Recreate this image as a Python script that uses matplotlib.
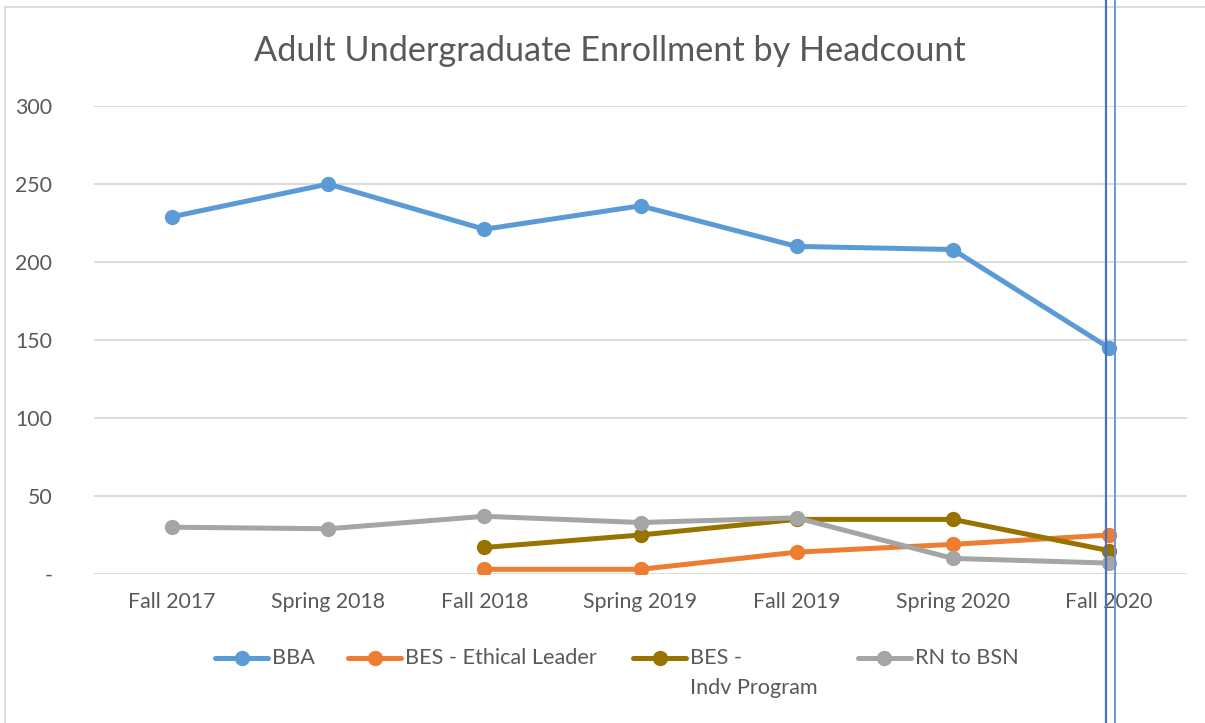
import matplotlib
matplotlib.use("Agg")
import matplotlib.pyplot as plt
from matplotlib.lines import Line2D
from matplotlib.patches import Rectangle
import numpy as np

# Data
terms = ["Fall 2017", "Spring 2018", "Fall 2018", "Spring 2019",
         "Fall 2019", "Spring 2020", "Fall 2020"]
bba = [229, 250, 221, 236, 210, 208, 145]
bes_ethical = [np.nan, np.nan, 3, 3, 14, 19, 25]
bes_indv = [np.nan, np.nan, 17, 25, 35, 35, 15]
rn_bsn = [30, 29, 37, 33, 36, 10, 7]
yticks = [0, 50, 100, 150, 200, 250, 300]
ytick_labels = ["-", "50", "100", "150", "200", "250", "300"]

series = [
    ("BBA", bba, "#5B9BD5"),
    ("BES - Ethical Leader", bes_ethical, "#ED7D31"),
    ("BES -\nIndv Program", bes_indv, "#997300"),
    ("RN to BSN", rn_bsn, "#A5A5A5"),
]

plt.rcParams['font.family'] = ['Lato', 'DejaVu Sans']
text_color = "#595959"

fig = plt.figure(figsize=(12.05, 7.23), dpi=100)
ax = fig.add_axes([94 / 1205, 1 - 574 / 723, (1187 - 94) / 1205, (574 - 106) / 723])

x = np.arange(len(terms))
for name, vals, col in series:
    ax.plot(x, vals, color=col, linewidth=3.6, marker="o", markersize=10,
            solid_capstyle="round", zorder=3)

ax.set_xlim(-0.5, len(terms) - 0.5)
ax.set_ylim(0, 300)
ax.set_yticks(yticks)
ax.set_yticklabels(ytick_labels)
ax.set_xticks(x)
ax.set_xticklabels(terms)
ax.tick_params(axis="both", length=0, labelsize=15.3, colors=text_color)
ax.tick_params(axis="y", pad=30)
ax.tick_params(axis="x", pad=13)
for lbl in ax.get_yticklabels():
    lbl.set_horizontalalignment("right")
ax.grid(axis="y", color="#D9D9D9", linewidth=1.3)
ax.set_axisbelow(True)
for s in ax.spines.values():
    s.set_visible(False)

fig.text(610 / 1205, 1 - 51 / 723, "Adult Undergraduate Enrollment by Headcount",
         ha="center", va="center", fontsize=24.7, color=text_color)

# legend drawn by hand to match the wrapped label
leg_y = 1 - 658 / 723
leg_x = [215, 348, 633, 858]
for (name, vals, col), lx in zip(series, leg_x):
    fig.add_artist(Line2D([lx / 1205, (lx + 53) / 1205], [leg_y, leg_y],
                          color=col, linewidth=3.6, solid_capstyle="round"))
    fig.add_artist(Line2D([(lx + 26.5) / 1205], [leg_y], color=col,
                          marker="o", markersize=10, linestyle="none"))
    fig.text((lx + 57) / 1205, leg_y + 10 / 723, name, ha="left", va="top",
             fontsize=15.6, color=text_color, linespacing=1.65)

# chart frame
fig.add_artist(Rectangle((5 / 1205, -0.05), 1.1, 1 - 7 / 723 + 0.05,
                         transform=fig.transFigure, fill=False,
                         edgecolor="#D9D9D9", linewidth=1.3))

# selection guide lines at the right
fig.add_artist(Line2D([1106 / 1205, 1106 / 1205], [0, 1], color="#4472C4", linewidth=1.6))
fig.add_artist(Line2D([1115 / 1205, 1115 / 1205], [0, 1], color="#6F94D6", linewidth=1.4))

fig.savefig("out.png", dpi=100)
